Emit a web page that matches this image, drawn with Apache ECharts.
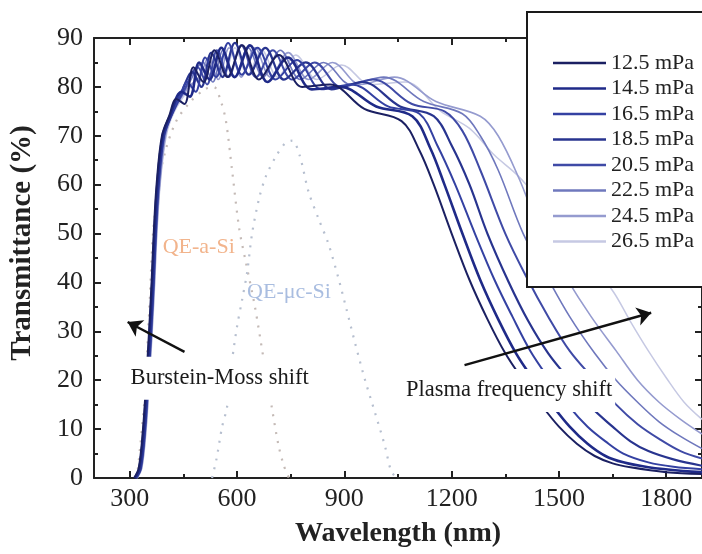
<!DOCTYPE html>
<html>
<head>
<meta charset="utf-8">
<script src="https://cdn.jsdelivr.net/npm/echarts@6/dist/echarts.min.js"></script>
<style>html,body{margin:0;padding:0;background:#fff;}#c{width:702px;height:554px;}</style>
</head>
<body>
<div id="c"></div>
<script>
// ---------- data ----------
const seriesNames = ['12.5 mPa','14.5 mPa','16.5 mPa','18.5 mPa','20.5 mPa','22.5 mPa','24.5 mPa','26.5 mPa'];
const seriesColors = ['#1b2062','#1f2a88','#3441a2','#28348f','#3f4aa6','#6f78bd','#959bcf','#c6c9e3'];
const seriesWidths = [2, 2.6, 2, 2.2, 2, 1.6, 1.6, 1.5];

const xMajorTicks = [300, 600, 900, 1200, 1500, 1800];
const xMinorTicks = [450, 750, 1050, 1350, 1650];

const t125 = [[312,0],[325,2],[337,10],[346,20],[354,30],[361,40],[367,50],[375,60],[390,70],[410,74],
  [430,77.5],[453,76.5],[478,84],[506,81],[537,87.5],[573,82],[614,88.5],[661,81.5],[717,86.5],[782,80],[860,80.5],[956,75.5],[1060,73],
  [1110,67],[1150,60],[1200,50],[1250,40.5],[1300,32.5],[1350,25.5],[1400,20],[1450,15],[1500,10.5],[1550,7],[1600,4.5],[1650,3],[1700,2.2],[1800,1.2],[1900,0.8]];
const t145 = [[314,0],[327,2],[339,10],[348,20],[356,30],[363,40],[369,50],[377,60],[392,70],[412,74],
  [445,79],[468,78],[494,85],[523,81.5],[556,88],[593,82],[636,88.5],[685,81],[742,86],[809,79.5],[890,80],[989,76],[1090,74],
  [1140,67.5],[1180,60],[1230,50],[1280,40.5],[1330,32.5],[1380,25.5],[1430,20],[1480,15],[1530,10.5],[1580,7],[1630,4.5],[1680,3.2],[1750,2.2],[1850,1.4],[1900,1.2]];
const t165 = [[316,0],[329,2],[341,10],[350,20],[358,30],[365,40],[371,50],[379,60],[394,70],[414,74],
  [440,78],[460,81],[484,79],[511,86],[541,82],[575,89],[613,82.5],[657,88],[708,81.5],[767,85.5],[836,79.5],[920,80.5],[1022,76],[1110,74.5],
  [1160,68],[1210,60],[1265,50],[1320,40.5],[1370,33],[1420,26],[1475,20],[1530,14.5],[1580,10.5],[1630,7.5],[1680,5],[1750,3.2],[1820,2.3],[1900,1.8]];
const t185 = [[317,0],[330,2],[342,10],[351,20],[359,30],[366,40],[372,50],[380,60],[395,70],[415,74],[445,79],
  [475,83],[500,80],[528,87],[559,82],[594,89],[633,82.5],[679,88],[731,81.5],[792,85],[864,79.5],[950,81],[1056,76],[1150,74],
  [1200,68],[1250,60],[1300,50],[1360,40],[1415,32],[1470,25.5],[1530,20],[1590,14.5],[1650,10.5],[1700,7.5],[1750,5.5],[1820,3.8],[1900,2.5]];
const t205 = [[318,0],[331,2],[343,10],[352,20],[360,30],[367,40],[373,50],[381,60],[396,70],[416,74],[450,79],
  [490,84],[516,80.5],[544,87.5],[576,82],[612,88.5],[653,82],[700,87.5],[754,81.5],[817,85],[891,80],[980,81.5],[1089,76.5],[1180,75],
  [1230,71],[1280,63],[1350,50],[1410,41],[1470,33],[1530,26],[1600,20],[1660,15],[1720,11],[1780,8],[1840,5.5],[1900,4]];
const t225 = [[319,0],[332,2],[344,10],[353,20],[361,30],[368,40],[374,50],[383,60],[398,70],[420,75],[460,80],
  [505,85],[532,81],[561,87.5],[594,82],[631,88],[673,82],[721,87.5],[777,81.5],[842,85],[918,80.5],[1010,82],[1122,77],[1230,74.5],
  [1280,70],[1330,63],[1400,50],[1460,42],[1530,33],[1600,25.5],[1660,20],[1720,15.5],[1780,11.5],[1840,8.5],[1900,6]];
const t245 = [[320,0],[333,2],[345,10],[354,20],[362,30],[369,40],[375,50],[384,60],[400,70],[422,75],[465,80],[495,82],
  [520,86],[547,81.5],[578,88],[612,82],[650,88],[693,82],[743,87],[800,81.5],[867,85],[945,80.5],[1040,82],[1156,77],[1280,74],
  [1330,70],[1390,61],[1450,50],[1520,41],[1590,33],[1660,26],[1720,20],[1780,15.5],[1840,12],[1900,9]];
const t265 = [[321,0],[334,2],[346,10],[355,20],[363,30],[370,40],[376,50],[385,60],[402,70],[425,75],[470,80],[505,83],
  [535,86.5],[563,82],[594,88],[629,82.5],[669,87.5],[713,82],[764,86.5],[823,81.5],[892,84.5],[973,80.5],[1070,81],[1170,75],[1250,71.5],
  [1320,66],[1383,62],[1450,56.5],[1520,50],[1590,44],[1653,38],[1700,32],[1750,26],[1800,20.5],[1850,15.5],[1900,12]];
const transmittance = [t125, t145, t165, t185, t205, t225, t245, t265];

const qeASi = [[320,0],[340,15],[355,35],[365,50],[380,60],[400,67],[430,73],[470,77],[510,79.5],[535,80],[555,77],[569,73],[586,63],[606,51],[625,44],[650,35],[675,24],[697,14.5],[715,7],[730,2.7],[745,0]];
const qeMcSi = [[530,0],[542,3.7],[558,10.4],[572,14.5],[586,24],[600,31],[614,36.4],[628,42],[642,50],[661,57],[680,61.6],[708,65.7],[735,68.5],[755,69],[775,66],[800,58.5],[828,53],[855,48],[883,41],[906,34.5],[930,27.6],[958,20],[986,13.3],[1014,6.4],[1030,1.6],[1045,0]];

// annotation anchors in data coordinates [wavelength, transmittance]
const arrowBM = [[453, 25.8], [294, 31.9]];
const arrowPF = [[1236, 23.1], [1758, 33.8]];
const labelQEa = {text: 'QE-a-Si', at: [392, 47.3], color: '#f2b48c'};
const labelQEm = {text: 'QE-\u03bcc-Si', at: [628, 37.9], color: '#a9bde0'};
const labelBM = {text: 'Burstein-Moss shift', at: [294, 20.4], color: '#1a1a1a'};
const labelPF = {text: 'Plasma frequency shift', at: [1064, 17.9], color: '#1a1a1a'};

// ---------- chart ----------
const FONT = "'Liberation Serif','DejaVu Serif',serif";
const chart = echarts.init(document.getElementById('c'), null, {renderer: 'canvas'});

function xAxisDef(pos, ticks, len, withLine, withLabel) {
  return {
    type: 'value', min: 200, max: 1900, position: pos,
    axisLine: {show: withLine, onZero: false, lineStyle: {color: '#222', width: 2}},
    axisTick: {show: true, inside: true, length: len, customValues: ticks, lineStyle: {color: '#222', width: 2}},
    axisLabel: {show: withLabel, customValues: ticks, formatter: v => String(v),
      fontFamily: FONT, fontSize: 26, color: '#222', margin: 8},
    splitLine: {show: false}
  };
}
const xAxes = [
  Object.assign(xAxisDef('bottom', xMajorTicks, 7, true, true), {
    name: 'Wavelength (nm)', nameLocation: 'middle', nameGap: 42,
    nameTextStyle: {fontFamily: FONT, fontSize: 28, fontWeight: 'bold', color: '#222'}
  }),
  xAxisDef('bottom', xMinorTicks, 4, false, false),
  xAxisDef('top', xMajorTicks, 7, true, false),
  xAxisDef('top', xMinorTicks, 4, false, false)
];
function yAxisDef(pos, withLabel) {
  return {
    type: 'value', min: 0, max: 90, interval: 10, position: pos,
    axisLine: {show: true, onZero: false, lineStyle: {color: '#222', width: 2}},
    axisTick: {show: true, inside: true, length: 7, lineStyle: {color: '#222', width: 2}},
    minorTick: {show: true, splitNumber: 2, length: 4, lineStyle: {color: '#222', width: 2}},
    axisLabel: {show: withLabel, formatter: v => String(v), fontFamily: FONT, fontSize: 26, color: '#222', margin: 11},
    splitLine: {show: false}, minorSplitLine: {show: false}
  };
}
const yAxes = [
  Object.assign(yAxisDef('left', true), {
    name: 'Transmittance (%)', nameLocation: 'middle', nameGap: 57, nameRotate: 90,
    nameTextStyle: {fontFamily: FONT, fontSize: 29, fontWeight: 'bold', color: '#222', padding: [0, 0, 0, 30]}
  }),
  yAxisDef('right', false)
];

const series = [];
series.push({
  name: 'QE-a-Si', type: 'line', data: qeASi, symbol: 'none', smooth: 0.3, z: 1,
  lineStyle: {color: '#c4bab6', width: 2.2, type: [2, 7]}, silent: true
});
series.push({
  name: 'QE-uc-Si', type: 'line', data: qeMcSi, symbol: 'none', smooth: 0.3, z: 1,
  lineStyle: {color: '#b6bfcf', width: 2.2, type: [2, 7]}, silent: true
});
transmittance.forEach((d, i) => {
  series.push({
    name: seriesNames[i], type: 'line', data: d, symbol: 'none', smooth: 0.35,
    lineStyle: {color: seriesColors[i], width: seriesWidths[i]},
    itemStyle: {color: seriesColors[i]}, z: 2 + (7 - i) * 0.01
  });
});
series.push({
  name: 'arrows', type: 'line', data: [], silent: true,
  markLine: {
    silent: true, symbol: ['none', 'arrow'], symbolSize: 14, animation: false,
    label: {show: false}, itemStyle: {color: '#111'},
    lineStyle: {color: '#111', width: 2.4, type: 'solid'},
    data: [
      [{coord: arrowBM[0]}, {coord: arrowBM[1]}],
      [{coord: arrowPF[0]}, {coord: arrowPF[1]}]
    ]
  }
});

chart.setOption({
  animation: false,
  backgroundColor: '#fff',
  grid: {left: 94, right: -4, top: 38, bottom: 76, containLabel: false},
  xAxis: xAxes,
  yAxis: yAxes,
  legend: {
    data: seriesNames, orient: 'vertical', left: 548, top: 47,
    icon: 'rect', itemWidth: 53, itemHeight: 2.5, itemGap: 3.5, z: 10, selectedMode: false,
    textStyle: {fontFamily: FONT, fontSize: 22, color: '#222'}
  },
  series: series
});

function place() {
  const els = [{
    type: 'rect', z: 3, silent: true,
    shape: {x: 527, y: 12, width: 190, height: 275},
    style: {fill: '#fff', stroke: '#1a1a1a', lineWidth: 2}
  }];
  [labelQEa, labelQEm].forEach(l => {
    const p = chart.convertToPixel({gridIndex: 0}, l.at);
    els.push({type: 'text', z: 3, silent: true, x: p[0], y: p[1],
      style: {text: l.text, fill: l.color, font: '22px ' + FONT, textAlign: 'left', textVerticalAlign: 'middle'}});
  });
  [labelBM, labelPF].forEach(l => {
    const p = chart.convertToPixel({gridIndex: 0}, l.at);
    els.push({type: 'text', z: 3, silent: true, x: p[0], y: p[1],
      style: {text: l.text, fill: l.color, font: '22.5px ' + FONT, textAlign: 'left', textVerticalAlign: 'middle',
        backgroundColor: '#fff', padding: [10, 3, 10, 3]}});
  });
  chart.setOption({graphic: {elements: els}});
}
place();
</script>
</body>
</html>
